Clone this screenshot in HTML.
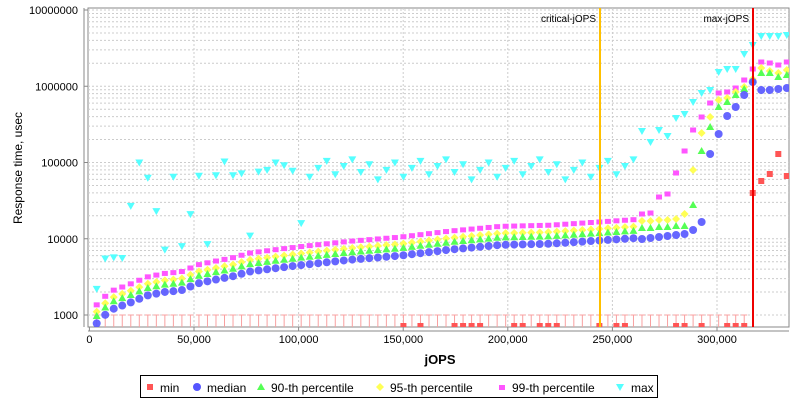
<!DOCTYPE html>
<html><head><style>
body{margin:0;background:#fff;width:800px;height:400px;overflow:hidden}
svg{font-family:"Liberation Sans","DejaVu Sans",sans-serif}
</style></head><body>
<svg id="s" width="800" height="400" xmlns="http://www.w3.org/2000/svg"></svg>
<script>
const s=document.getElementById('s');let h='';
const L=88,R=789,T=8,B=327;
const Y=v=>315-76.25*(Math.log10(v)-3);
const X=j=>89.4+j*0.002092;
h+=`<rect x="${L}" y="${T}" width="${R-L}" height="${B-T}" fill="#fff" stroke="#888"/>`;
for(let d=3;d<7;d++)for(let m=1;m<10;m++){let y=Y(m*Math.pow(10,d));if(y<T||y>B)continue;h+=`<line x1="${L}" x2="${R}" y1="${y}" y2="${y}" stroke="#ccc" stroke-dasharray="2,2"/>`;}
h+=`<line x1="${L}" x2="${R}" y1="${Y(1e7)}" y2="${Y(1e7)}" stroke="#ccc" stroke-dasharray="2,2"/>`;
for(let j=50000;j<=300000;j+=50000)h+=`<line x1="${X(j)}" x2="${X(j)}" y1="${T}" y2="${B}" stroke="#ccc" stroke-dasharray="2,2"/>`;
for(let d=3;d<=7;d++){let y=Y(Math.pow(10,d));h+=`<text x="78" y="${y+4}" font-size="11" text-anchor="end">${Math.pow(10,d)}</text><line x1="84" x2="88" y1="${y}" y2="${y}" stroke="#888"/>`;}
for(let j=0;j<=300000;j+=50000){h+=`<text x="${X(j)}" y="343" font-size="11" text-anchor="middle">${j.toLocaleString('en-US')}</text><line x1="${X(j)}" x2="${X(j)}" y1="327" y2="331" stroke="#888"/>`;}
h+=`<line x1="${L}" x2="${R}" y1="331" y2="331" stroke="#888"/><line x1="84" x2="84" y1="${T}" y2="${B}" stroke="#888"/>`;
h+=`<text x="440" y="364" font-size="13" font-weight="bold" text-anchor="middle">jOPS</text>`;
h+=`<text transform="translate(22,168) rotate(-90)" font-size="12" text-anchor="middle">Response time, usec</text>`;
const A=[[96,760],[105,1000],[113,1200],[130,1450],[147,1800],[164,2000],[181,2100],[198,2600],[215,2900],[232,3200],[249,3700],[275,4100],[300,4500],[350,5300],[400,6000],[450,7200],[500,8300],[550,8600],[600,9500],[640,10300]];
function med(x){for(let k=0;k<A.length-1;k++){if(x<=A[k+1][0]){let t=(x-A[k][0])/(A[k+1][0]-A[k][0]);return Math.pow(10,Math.log10(A[k][1])+t*(Math.log10(A[k+1][1])-Math.log10(A[k][1])));}}return 10300;}
// tail pixel y values, columns from index 64
const TM=[239,238,237,236,235,234,230,222,154,134,116,107,95,82,90,90,89,88];
const TG=[228,228,227,227,226,226,205,151,127,107,102,95,89,80,73,73,77,75];
const TY=[221,221,220,220,219,214,170,133,117,100,98,92,87,79,68,71,73,70];
const TP=[214,213,197,194,173,151,130,117,103,93,92,88,80,69,62,63,65,62];
const TX=[131,142,130,136,118,114,102,93,90,72,69,69,54,45,36,36,36,35];
const TN={13:193,14:181,15:174,16:154,17:176};
const minBot=[402,420,455,463,472,480,515,523,540,548,557,600,620,628,677,685,702,727,735,744];
const maxE={96:2200,105:5500,113:5700,121:5600,130:27000,138:100000,147:63000,155:23000,163:7200,172:65000,180:8000,189:21000,197:67000,205:8500,214:68000,222:103000,230:68000,239:72000,247:11000,256:76000,264:80000,273:100000,281:92000,289:78000,298:16000};
const xs=[];for(let i=0;i<82;i++)xs.push(96.7+i*8.52);
let g='';
xs.forEach(x=>{ if(x<748)g+=`<line x1="${x}" x2="${x}" y1="315" y2="327" stroke="#f8a0a0"/><line x1="${x-3}" x2="${x+3}" y1="315" y2="315" stroke="#f8a0a0"/>`;});
function tri(x,y,c,up){return up?`<polygon points="${x},${y-4} ${x-4},${y+3} ${x+4},${y+3}" fill="${c}"/>`:`<polygon points="${x-4},${y-3} ${x+4},${y-3} ${x},${y+4}" fill="${c}"/>`;}
function ptsY(x,m,p90,p95,p99,mx){
 g+=`<rect x="${x-3}" y="${p99-2.5}" width="6" height="5" fill="#ff55ff"/>`;
 g+=`<polygon points="${x},${p95-4} ${x+4},${p95} ${x},${p95+4} ${x-4},${p95}" fill="#ffff55"/>`;
 g+=tri(x,p90,'#55ff55',true);
 g+=`<circle cx="${x}" cy="${m}" r="4" fill="#5555ff" opacity="0.9"/>`;
 g+=tri(x,mx,'#55ffff',false);
}
xs.forEach((x,i)=>{
 if(i>=64){let k=i-64;ptsY(x,TM[k],TG[k],TY[k],TP[k],TX[k]);return;}
 let m=med(x);
 let ek=Object.keys(maxE).find(k=>Math.abs(k-x)<4.3);
 let mx=ek?maxE[ek]:(60000+((i*37)%11)*5000);
 ptsY(x,Y(m),Y(m*1.25),Y(m*1.42),Y(m*1.75),Y(mx));
});
xs.forEach((x,i)=>{ if(minBot.some(b=>Math.abs(b-x)<4.3)) g+=`<rect x="${x-3}" y="323" width="6" height="5" fill="#ff5555"/>`;
 if(i>=64&&TN[i-64]) g+=`<rect x="${x-3}" y="${TN[i-64]-3}" width="6" height="6" fill="#ff5555"/>`;});
h+=`<svg x="${L}" y="${T}" width="${R-L}" height="${B-T}" viewBox="${L} ${T} ${R-L} ${B-T}">${g}</svg>`;
h+=`<line x1="600" x2="600" y1="${T}" y2="${B}" stroke="#ffc000" stroke-width="2"/><text x="596" y="22" font-size="10" text-anchor="end">critical-jOPS</text>`;
h+=`<line x1="753" x2="753" y1="${T}" y2="${B}" stroke="#ee0000" stroke-width="2"/><text x="749" y="22" font-size="10" text-anchor="end">max-jOPS</text>`;
h+=`<rect x="140.5" y="375.5" width="517" height="22" fill="#fff" stroke="#000"/>`;
let ly=387;
h+=`<rect x="147" y="${ly-3}" width="6" height="6" fill="#ff5555"/><text x="160" y="${ly+5}" font-size="12">min</text>`;
h+=`<circle cx="197" cy="${ly}" r="4" fill="#5555ff"/><text x="207" y="${ly+5}" font-size="12">median</text>`;
h+=tri(261,ly,'#55ff55',true)+`<text x="271" y="${ly+5}" font-size="12">90-th percentile</text>`;
h+=`<polygon points="380,${ly-4} 384,${ly} 380,${ly+4} 376,${ly}" fill="#ffff55"/><text x="390" y="${ly+5}" font-size="12">95-th percentile</text>`;
h+=`<rect x="499" y="${ly-2}" width="6" height="5" fill="#ff55ff"/><text x="512" y="${ly+5}" font-size="12">99-th percentile</text>`;
h+=tri(620,ly,'#55ffff',false)+`<text x="631" y="${ly+5}" font-size="12">max</text>`;
s.innerHTML=h;
</script>
</body></html>
